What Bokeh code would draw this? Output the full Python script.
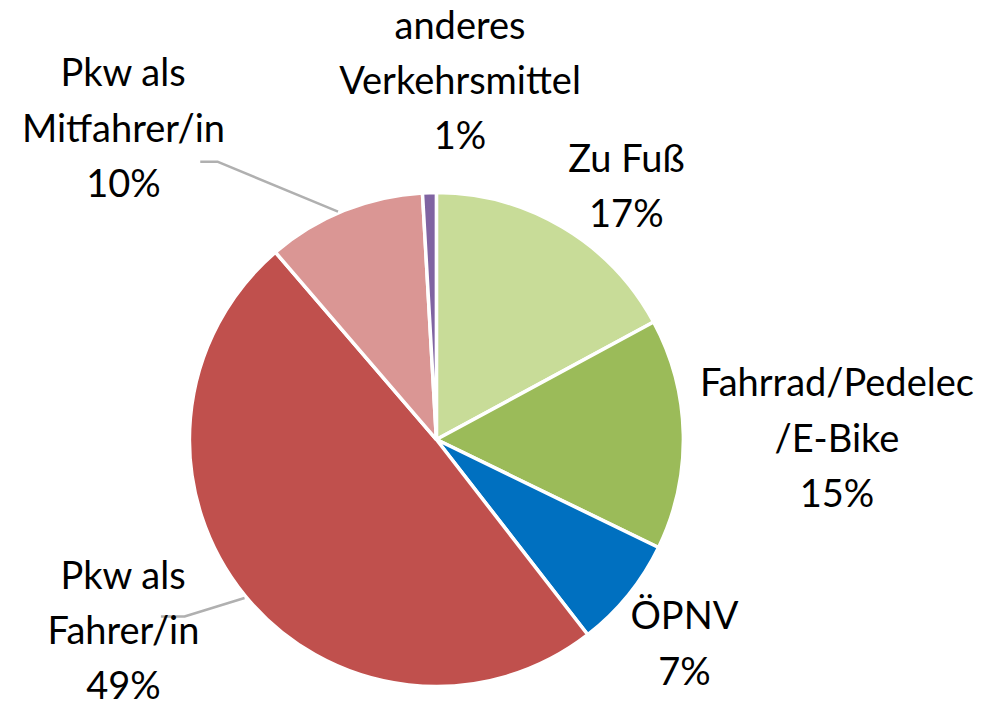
import math
from bokeh.plotting import figure
from bokeh.models import Range1d, ColumnDataSource
from bokeh.core.properties import value
from bokeh.embed import file_html
from bokeh.resources import INLINE

# ---- data ----
categories = ["Zu Fuß", "Fahrrad/Pedelec\n/E-Bike", "ÖPNV", "Pkw als\nFahrer/in",
              "Pkw als\nMitfahrer/in", "anderes\nVerkehrsmittel"]
shares = [17.1, 15.1, 7.3, 49.2, 10.4, 0.9]
colors = ["#C8DC98", "#9BBB59", "#0070C0", "#C0504D", "#DA9694", "#8064A2"]

# ---- layout (reference-pixel coordinates, y measured up from bottom) ----
W, H = 1000, 722
cx, cy, r = 443, H - 449, 251
label_pos = [(636, H - 188), (850, H - 446), (695, H - 656), (125, H - 643),
             (125, H - 129), (467, H - 80)]
leaders = [
    [(163, 630), (187, 630), (248, 611)],   # Pkw Fahrer
    [(203, 165), (221, 165), (343, 216)],   # Pkw Mitfahrer
]

total = sum(shares)
starts, ends = [], []
cum = 0.0
for v in shares:
    a0 = math.pi / 2 - 2 * math.pi * cum / total
    cum += v
    a1 = math.pi / 2 - 2 * math.pi * cum / total
    starts.append(a1)
    ends.append(a0)

src = ColumnDataSource(dict(start=starts, end=ends, color=colors))

p = figure(width=984, height=706, output_backend="svg", toolbar_location=None,
           x_range=Range1d(0, W), y_range=Range1d(0, H),
           min_border=0, outline_line_color=None)
p.axis.visible = False
p.grid.visible = False

p.wedge(x=cx, y=cy, radius=r, start_angle="start", end_angle="end",
        fill_color="color", line_color="white", line_width=3.5, source=src)

for pts in leaders:
    p.line([q[0] for q in pts], [H - q[1] for q in pts], line_color="#B0B0B0", line_width=2.5)

texts = [f"{c}\n{round(v)}%" for c, v in zip(categories, shares)]
p.text(x=[q[0] for q in label_pos], y=[q[1] for q in label_pos], text=texts,
       text_font=value("Lato"), text_font_size="38px", text_color="black",
       text_align="center", text_baseline="middle", text_line_height=1.2)

open("out.html", "w").write(file_html(p, INLINE))
